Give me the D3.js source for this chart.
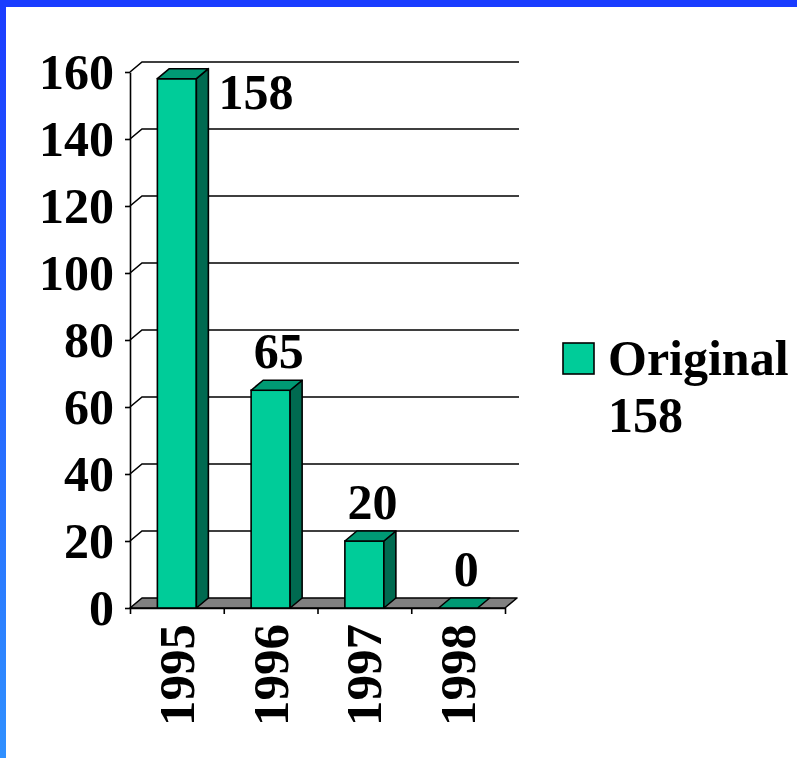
<!DOCTYPE html>
<meta charset="utf-8">
<script src="https://d3js.org/d3.v7.min.js"></script>
<style>
  body { margin: 0; background: #fff; }
  text { font-family: "Liberation Serif", "Times New Roman", serif; font-weight: bold; }
</style>
<div id="chart"></div>
<script>

// data
var years = ["1995", "1996", "1997", "1998"];
var original = [158, 65, 20, 0];
var yTicks = [0, 20, 40, 60, 80, 100, 120, 140, 160];
var seriesName = "Original";
var seriesNote = "158";

var W = 797, H = 758;
var fs = 50;

// 3d depth offsets
var dx = 12, dy = -10;

var svg = d3.select("#chart").append("svg")
  .attr("width", W)
  .attr("height", H);

// blue frame (top bar + left gradient bar)
var defs = svg.append("defs");
var grad = defs.append("linearGradient")
  .attr("id", "leftBar")
  .attr("x1", 0).attr("y1", 0).attr("x2", 0).attr("y2", 1);
grad.append("stop").attr("offset", "0%").attr("stop-color", "#1a3cff");
grad.append("stop").attr("offset", "100%").attr("stop-color", "#3090ff");

svg.append("rect").attr("x", 0).attr("y", 0).attr("width", W).attr("height", H).attr("fill", "#fff");
svg.append("rect").attr("x", 0).attr("y", 0).attr("width", 6).attr("height", H).attr("fill", "url(#leftBar)");
svg.append("rect").attr("x", 0).attr("y", 0).attr("width", W).attr("height", 7).attr("fill", "#1a3cff");

// scales
var x0 = 130, x1 = 505;
var y = d3.scaleLinear().domain([0, 160]).range([608, 72]);
var x = d3.scaleBand().domain(years).range([x0, x1])
  .paddingInner(0.584).paddingOuter(0.292);
var xEdge = d3.scaleLinear().domain([0, years.length]).range([x0, x1]);

var g = svg.append("g");

// back wall gridlines
var grid = g.append("g");
yTicks.filter(function(v) { return v > 0; }).forEach(function(v) {
  grid.append("path")
    .attr("d", "M" + x0 + "," + y(v) + "L" + (x0 + dx) + "," + (y(v) + dy) + "H" + (x1 + dx + 2))
    .attr("fill", "none")
    .attr("stroke", "#000")
    .attr("stroke-width", 1.6);
});

// floor
g.append("path")
  .attr("d", "M" + x0 + "," + y(0) + "L" + x1 + "," + y(0) + "L" + (x1 + dx) + "," + (y(0) + dy) +
             "L" + (x0 + dx) + "," + (y(0) + dy) + "Z")
  .attr("fill", "#808080")
  .attr("stroke", "#000")
  .attr("stroke-width", 1.6)
  .attr("stroke-linejoin", "round");

// y axis
var yAxis = g.append("g")
  .attr("transform", "translate(" + x0 + ",0)")
  .call(d3.axisLeft(y).tickValues(yTicks).tickSize(5).tickSizeOuter(0).tickPadding(11));
yAxis.selectAll("path, line").attr("stroke", "#000").attr("stroke-width", 1.6);
yAxis.selectAll("text")
  .attr("fill", "#000")
  .style("font-size", fs + "px")
  .style("font-family", "'Liberation Serif', 'Times New Roman', serif")
  .style("font-weight", "bold");

// x axis (category boundary ticks)
var xAxis = g.append("g")
  .attr("transform", "translate(0," + y(0) + ")")
  .call(d3.axisBottom(xEdge).tickValues(d3.range(years.length + 1)).tickSize(6).tickSizeOuter(0).tickFormat(""));
xAxis.selectAll("path, line").attr("stroke", "#000").attr("stroke-width", 1.6);

// x labels, rotated
g.append("g").selectAll("text")
  .data(years)
  .enter()
  .append("text")
    .attr("transform", function(d) {
      return "translate(" + (x(d) + x.bandwidth() / 2 + 17) + "," + (y(0) + 16) + ") rotate(-90)";
    })
    .attr("text-anchor", "end")
    .style("font-size", (fs + 1) + "px")
    .text(function(d) { return d; });

// bars
var data = years.map(function(d, i) { return {year: d, value: original[i]}; });
var bars = g.append("g").selectAll("g")
  .data(data)
  .enter()
  .append("g");

bars.each(function(d) {
  var b = d3.select(this);
  var bx = x(d.year), bw = x.bandwidth();
  var top = y(d.value), base = y(0);
  if (d.value > 0) {
    b.append("rect")
      .attr("x", bx).attr("y", top)
      .attr("width", bw).attr("height", base - top)
      .attr("fill", "#00cc99")
      .attr("stroke", "#000").attr("stroke-width", 1.6);
    b.append("path")
      .attr("d", "M" + (bx + bw) + "," + top + "L" + (bx + bw + dx) + "," + (top + dy) +
                 "L" + (bx + bw + dx) + "," + (base + dy) + "L" + (bx + bw) + "," + base + "Z")
      .attr("fill", "#006a50")
      .attr("stroke", "#000").attr("stroke-width", 1.6).attr("stroke-linejoin", "round");
  }
  b.append("path")
    .attr("d", "M" + bx + "," + top + "L" + (bx + dx) + "," + (top + dy) +
               "L" + (bx + bw + dx) + "," + (top + dy) + "L" + (bx + bw) + "," + top + "Z")
    .attr("fill", "#009a74")
    .attr("stroke", "#000").attr("stroke-width", 1.6).attr("stroke-linejoin", "round");
});

// value labels: above the bar, or beside it when there is no room above
function beside(d) { return y(d.value) - 50 < y(160); }
g.append("g").selectAll("text")
  .data(data)
  .enter()
  .append("text")
    .style("font-size", fs + "px")
    .attr("text-anchor", function(d) { return beside(d) ? "start" : "middle"; })
    .attr("x", function(d) {
      if (beside(d)) return x(d.year) + x.bandwidth() + dx + 10;
      return x(d.year) + x.bandwidth() / 2 + dx / 2 + 2;
    })
    .attr("y", function(d) {
      if (beside(d)) return y(d.value) + 30;
      return y(d.value) - 22;
    })
    .text(function(d) { return d.value; });

// legend
var legend = svg.append("g").attr("transform", "translate(563,343)");
legend.append("rect")
  .attr("width", 31).attr("height", 31)
  .attr("fill", "#00cc99")
  .attr("stroke", "#000").attr("stroke-width", 1.6);
legend.append("text")
  .attr("x", 45).attr("y", 32)
  .style("font-size", fs + "px")
  .text(seriesName);
legend.append("text")
  .attr("x", 45).attr("y", 89)
  .style("font-size", fs + "px")
  .text(seriesNote);

</script>
